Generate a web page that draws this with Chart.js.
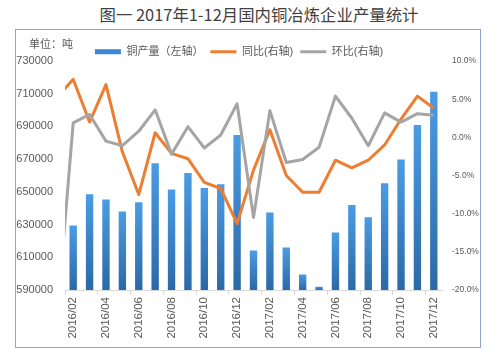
<!DOCTYPE html>
<html>
<head>
<meta charset="utf-8">
<script src="https://cdn.jsdelivr.net/npm/chart.js@4.4.0/dist/chart.umd.min.js"></script>
<style>
  body { margin: 0; background: #fff; width: 493px; height: 361px; overflow: hidden; position: relative;
         font-family: 'Noto Sans CJK SC', sans-serif; }
  #titulo { position: absolute; left: 0; width: 518px; top: 4px; text-align: center;
            font-size: 16.4px; line-height: 20px; color: #404040; white-space: nowrap; }
  #caixa { position: absolute; left: 15px; top: 29px; width: 464px; height: 317px; border: 1px solid #8aa6c6; }
  #unidade { position: absolute; left: 29px; top: 35px; font-size: 11px; line-height: 16px; color: #595959; }
  canvas { display: block; }
</style>
</head>
<body>
<div id="titulo">图一 2017年1-12月国内铜冶炼企业产量统计</div>
<div id="caixa"><canvas id="grafico" width="464" height="317"></canvas></div>
<div id="unidade">单位：吨</div>
<script>
// dados (2016/01 fica fora da área, só aparece o começo das linhas)
const meses = ['2016/01', '2016/02', '2016/03', '2016/04', '2016/05', '2016/06', '2016/07', '2016/08',
  '2016/09', '2016/10', '2016/11', '2016/12', '2017/01', '2017/02', '2017/03', '2017/04', '2017/05',
  '2017/06', '2017/07', '2017/08', '2017/09', '2017/10', '2017/11', '2017/12'];
const producao = [null, 629500, 648500, 645400, 638000, 643600, 667500, 651500, 661500, 652300, 654600,
  684700, 614100, 637400, 616000, 599400, 592000, 625200, 641900, 634400, 655200, 669800, 690800, 711200];
const tongbi = [5.2, 7.6, 2.0, 6.9, -1.9, -7.5, 0.6, -2.1, -2.8, -5.9, -6.7, -11.3,
  -4.3, 1.0, -5.0, -7.2, -7.2, -3.0, -4.0, -3.0, -1.0, 2.4, 5.4, 3.8];
const huanbi = [-24.0, 1.9, 3.0, -0.5, -1.1, 0.8, 3.6, -2.2, 1.4, -1.4, 0.3, 4.4,
  -10.5, 3.5, -3.3, -2.9, -1.3, 5.4, 2.5, -1.1, 3.2, 2.0, 3.1, 2.9];
const nomes = ['铜产量（左轴）', '同比(右轴)', '环比(右轴)'];
const eixoEsq = [590000, 610000, 630000, 650000, 670000, 690000, 710000, 730000];
const eixoDir = [-20, -15, -10, -5, 0, 5, 10];

const cinzaTexto = '#595959';
const fonte = "'Liberation Sans', 'Noto Sans CJK SC', sans-serif";
Chart.defaults.font.family = fonte;
Chart.defaults.color = cinzaTexto;

// degradê em cada barra: claro em cima, escuro embaixo
function corBarra(ctx) {
  const chart = ctx.chart;
  const area = chart.chartArea;
  if (!area || ctx.raw == null) return '#3a87d4';
  const topo = chart.scales.y.getPixelForValue(ctx.raw);
  const g = chart.ctx.createLinearGradient(0, topo, 0, area.bottom);
  g.addColorStop(0, '#4a9ce4');
  g.addColorStop(1, '#2c69a6');
  return g;
}

// a legenda do original fica um pouco à esquerda do centro
const puxaLegenda = {
  id: 'puxaLegenda',
  afterLayout(chart) {
    chart.legend.right -= 18;
  }
};

new Chart(document.getElementById('grafico').getContext('2d'), {
  type: 'bar',
  data: {
    labels: meses,
    datasets: [{
      label: nomes[0],
      data: producao,
      backgroundColor: corBarra,
      barPercentage: 0.45,
      categoryPercentage: 1,
      yAxisID: 'y',
      order: 2
    }, {
      type: 'line',
      label: nomes[1],
      data: tongbi,
      borderColor: '#ed7d31',
      backgroundColor: '#ed7d31',
      borderWidth: 3,
      borderJoinStyle: 'round',
      pointRadius: 0,
      tension: 0,
      yAxisID: 'y1',
      order: 1
    }, {
      type: 'line',
      label: nomes[2],
      data: huanbi,
      borderColor: '#a5a5a5',
      backgroundColor: '#a5a5a5',
      borderWidth: 3,
      borderJoinStyle: 'round',
      pointRadius: 0,
      tension: 0,
      yAxisID: 'y1',
      order: 0
    }]
  },
  plugins: [puxaLegenda],
  options: {
    responsive: false,
    animation: false,
    layout: { padding: { top: 9.2, left: 0, right: 0, bottom: 0 } },
    plugins: {
      tooltip: { enabled: false },
      legend: {
        position: 'top',
        maxHeight: 21.8,
        labels: {
          usePointStyle: true,
          pointStyleWidth: 26,
          boxHeight: 5,
          padding: 7,
          color: cinzaTexto,
          font: { size: 11 },
          generateLabels: function (chart) {
            const itens = Chart.defaults.plugins.legend.labels.generateLabels(chart);
            itens.sort((a, b) => a.datasetIndex - b.datasetIndex);
            itens.forEach(it => { it.pointStyle = it.datasetIndex === 0 ? 'rect' : 'line'; });
            return itens;
          }
        }
      }
    },
    scales: {
      x: {
        min: meses[1],
        offset: true,
        grid: {
          offset: true,
          drawOnChartArea: false,
          drawTicks: true,
          tickLength: 5,
          tickColor: c => (c.tick && c.tick.value % 2 === 1) ? '#d9d9d9' : 'rgba(0,0,0,0)'
        },
        border: { color: '#d9d9d9' },
        ticks: {
          autoSkip: false,
          minRotation: 90,
          maxRotation: 90,
          padding: 2,
          font: { size: 11.5 },
          callback: function (v) {
            const rotulo = this.getLabelForValue(v);
            return parseInt(rotulo.slice(5), 10) % 2 === 0 ? rotulo : '';
          }
        },
        afterFit: s => { s.height = 57; }
      },
      y: {
        position: 'left',
        min: eixoEsq[0],
        max: eixoEsq[eixoEsq.length - 1],
        ticks: {
          stepSize: eixoEsq[1] - eixoEsq[0],
          padding: 12,
          font: { size: 11 },
          callback: v => String(v)
        },
        grid: { display: false, drawTicks: false },
        border: { display: false },
        afterFit: s => { s.width = 49; }
      },
      y1: {
        position: 'right',
        min: eixoDir[0],
        max: eixoDir[eixoDir.length - 1],
        ticks: {
          stepSize: eixoDir[1] - eixoDir[0],
          padding: 10,
          font: { size: 8.5 },
          callback: v => v.toFixed(1) + '%'
        },
        grid: { display: false, drawTicks: false },
        border: { display: false },
        afterFit: s => { s.width = 38; }
      }
    }
  }
});
</script>
</body>
</html>
